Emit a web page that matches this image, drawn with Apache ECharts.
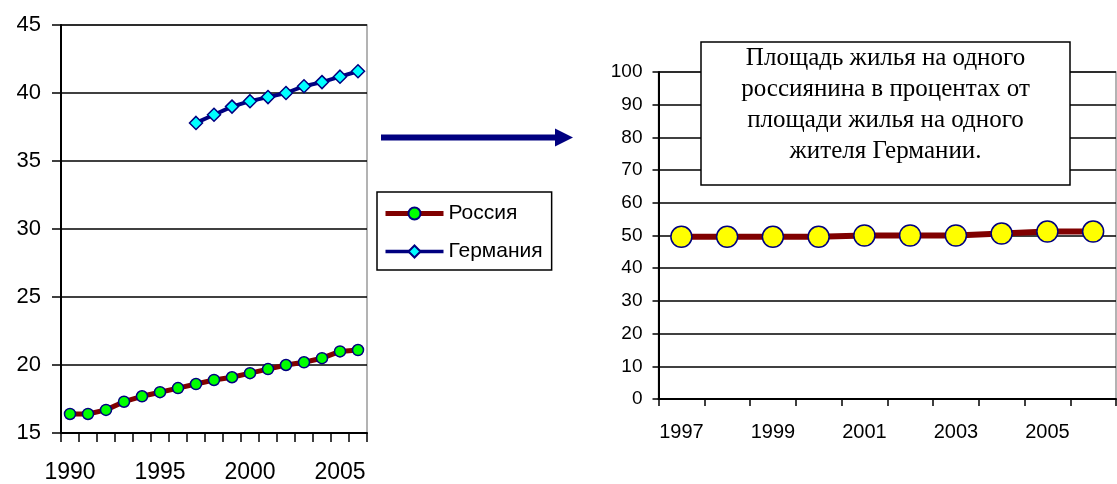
<!DOCTYPE html>
<html>
<head>
<meta charset="utf-8">
<script src="https://cdn.jsdelivr.net/npm/echarts@6/dist/echarts.min.js"></script>
<style>
  html, body { margin: 0; padding: 0; background: #fff; }
  #chart { width: 1117px; height: 484px; }
</style>
</head>
<body>
<div id="chart"></div>
<script>
// левый график: площадь жилья на человека, м2
const years = ['1990', '1991', '1992', '1993', '1994', '1995', '1996', '1997', '1998',
  '1999', '2000', '2001', '2002', '2003', '2004', '2005', '2006']
const russia = [16.4, 16.4, 16.7, 17.3, 17.7, 18.0, 18.3, 18.6, 18.9, 19.1, 19.4, 19.7, 20.0, 20.2, 20.5, 21.0, 21.1]
const germany = [null, null, null, null, null, null, null, 37.8, 38.4, 39.0, 39.4, 39.7, 40.0, 40.5, 40.8, 41.2, 41.6]

// правый график: процент от Германии
const yearsPct = ['1997', '1998', '1999', '2000', '2001', '2002', '2003', '2004', '2005', '2006']
const percent = [49.6, 49.6, 49.6, 49.6, 50.0, 50.0, 50.0, 50.6, 51.2, 51.2]

const boxText = 'Площадь жилья на одного\nроссиянина в процентах от\nплощади жилья на одного\nжителя Германии.'

const font = "'Liberation Sans', Arial, sans-serif"
const chart = echarts.init(document.getElementById('chart'))

function valueAxis(gridIndex, min, max, interval, fontSize, margin, tickLen) {
  return {
    type: 'value',
    gridIndex,
    min,
    max,
    interval,
    axisLine: { show: true, lineStyle: { color: '#000', width: 2 } },
    axisTick: { show: true, length: tickLen, lineStyle: { color: '#000', width: 1.5 } },
    axisLabel: { color: '#000', fontSize, fontFamily: font, margin },
    splitLine: { show: true, lineStyle: { color: '#000', width: 1.5 } }
  }
}

function catAxis(gridIndex, data, labelInterval, fontSize, margin, tickLen) {
  return {
    type: 'category',
    gridIndex,
    data,
    boundaryGap: true,
    axisLine: { show: true, lineStyle: { color: '#000', width: 2 } },
    axisTick: { show: true, interval: 0, length: tickLen, lineStyle: { color: '#000', width: 1.5 } },
    axisLabel: { interval: labelInterval, color: '#000', fontSize, fontFamily: font, margin }
  }
}

chart.setOption({
  animation: false,
  backgroundColor: '#fff',
  grid: [
    { left: 61, right: 750, top: 25, bottom: 49, show: true, borderColor: '#9a9a9a', borderWidth: 1.5 },
    { left: 658.5, right: 1, top: 72, bottom: 85, show: true, borderColor: '#9a9a9a', borderWidth: 1.5 }
  ],
  xAxis: [
    catAxis(0, years, 4, 23, 28, 9),
    catAxis(1, yearsPct, 1, 20, 23, 7)
  ],
  yAxis: [
    valueAxis(0, 15, 45, 5, 22, 20, 9),
    valueAxis(1, 0, 100, 10, 19, 16, 6)
  ],
  legend: {
    data: [
      { name: 'Россия', lineStyle: { width: 5, color: '#800000' } },
      { name: 'Германия', lineStyle: { width: 3.5, color: '#000080' } }
    ],
    orient: 'vertical',
    left: 377,
    top: 192,
    itemWidth: 58,
    itemHeight: 15,
    itemGap: 15,
    padding: [10, 9, 7, 6],
    borderColor: '#000',
    borderWidth: 1.5,
    backgroundColor: '#fff',
    textStyle: { color: '#000', fontSize: 21, fontFamily: font, lineHeight: 23 }
  },
  series: [
    {
      name: 'Россия',
      type: 'line',
      xAxisIndex: 0,
      yAxisIndex: 0,
      data: russia,
      symbol: 'circle',
      symbolSize: 11,
      showAllSymbol: true,
      lineStyle: { color: '#800000', width: 5 },
      itemStyle: { color: '#00ff00', borderColor: '#000080', borderWidth: 1.5 }
    },
    {
      name: 'Германия',
      type: 'line',
      xAxisIndex: 0,
      yAxisIndex: 0,
      data: germany,
      symbol: 'diamond',
      symbolSize: 13,
      showAllSymbol: true,
      lineStyle: { color: '#000080', width: 4 },
      itemStyle: { color: '#00ffff', borderColor: '#000080', borderWidth: 1.5 }
    },
    {
      name: 'Процент',
      type: 'line',
      xAxisIndex: 1,
      yAxisIndex: 1,
      data: percent,
      symbol: 'circle',
      symbolSize: 21,
      showAllSymbol: true,
      lineStyle: { color: '#800000', width: 6 },
      itemStyle: { color: '#ffff00', borderColor: '#000080', borderWidth: 1.5 }
    }
  ],
  graphic: [
    // стрелка
    {
      type: 'line',
      z: 50,
      shape: { x1: 381, y1: 137.5, x2: 557, y2: 137.5 },
      style: { stroke: '#000080', lineWidth: 6 }
    },
    {
      type: 'polygon',
      z: 50,
      shape: { points: [[555, 128.5], [573, 137.5], [555, 146.5]] },
      style: { fill: '#000080' }
    },
    // рамка с подписью
    {
      type: 'rect',
      z: 100,
      shape: { x: 701, y: 42, width: 369, height: 143 },
      style: { fill: '#fff', stroke: '#000', lineWidth: 1.5 }
    },
    {
      type: 'text',
      z: 101,
      x: 885.5,
      y: 105,
      style: {
        text: boxText,
        align: 'center',
        verticalAlign: 'middle',
        fill: '#000',
        font: "25px 'Liberation Serif', 'Times New Roman', serif",
        lineHeight: 31
      }
    }
  ]
})
</script>
</body>
</html>
